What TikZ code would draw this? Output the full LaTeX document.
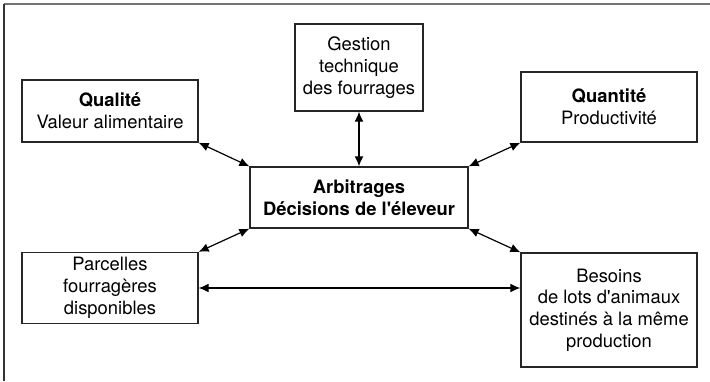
\documentclass[tikz,border=0pt]{standalone}
\usepackage{fontspec}
\setmainfont{TeX Gyre Heros}
\usetikzlibrary{arrows.meta}

\begin{document}
\begin{tikzpicture}[x=0.5pt,y=-0.5pt,
	boite/.style={draw=black!85,line width=0.65pt,align=center,inner sep=0pt,font=\fontsize{9.2}{10.9}\selectfont},
	fleche/.style={line width=0.6pt,{Latex[length=5pt,width=4.4pt]}-{Latex[length=5pt,width=4.4pt]}}]
			\useasboundingbox (0,0) rectangle (710,381);
			\draw[black!55,line width=0.7pt] (4,4)--(710,4);
			\draw[black!80,line width=0.6pt] (4,4)--(4,381);
			\node[boite,minimum width=88pt,minimum height=31pt] (qualite) at (110,111) {\textbf{Qualité}\\Valeur alimentaire};
			\node[boite,minimum width=64pt,minimum height=43.5pt] (gestion) at (359,67.5) {Gestion\\technique\\des fourrages};
			\node[boite,minimum width=88pt,minimum height=35pt] (quantite) at (609,107) {\textbf{Quantité}\\Productivité};
			\node[boite,minimum width=109pt,minimum height=30.5pt] (arbitrages) at (359,197.5) {\textbf{Arbitrages}\\\textbf{Décisions de l\textquotesingle éleveur}};
			\node[boite,minimum width=88pt,minimum height=35.5pt] (parcelles) at (110,288) {Parcelles\\fourragères\\disponibles};
			\node[boite,minimum width=88pt,minimum height=57pt] (besoins) at (609,310) {Besoins\\de lots d\textquotesingle animaux\\destinés à la même\\production};
			\draw[fleche] (qualite.south east)--(arbitrages.north west);
			\draw[fleche] (gestion.south)--(arbitrages.north);
			\draw[fleche] (arbitrages.north east)--(quantite.south west);
			\draw[fleche] (arbitrages.south west)--(parcelles.north east);
			\draw[fleche] (arbitrages.south east)--(besoins.north west);
			\draw[fleche] (parcelles.east)--(parcelles.east -| besoins.west);
		\end{tikzpicture}
\end{document}
